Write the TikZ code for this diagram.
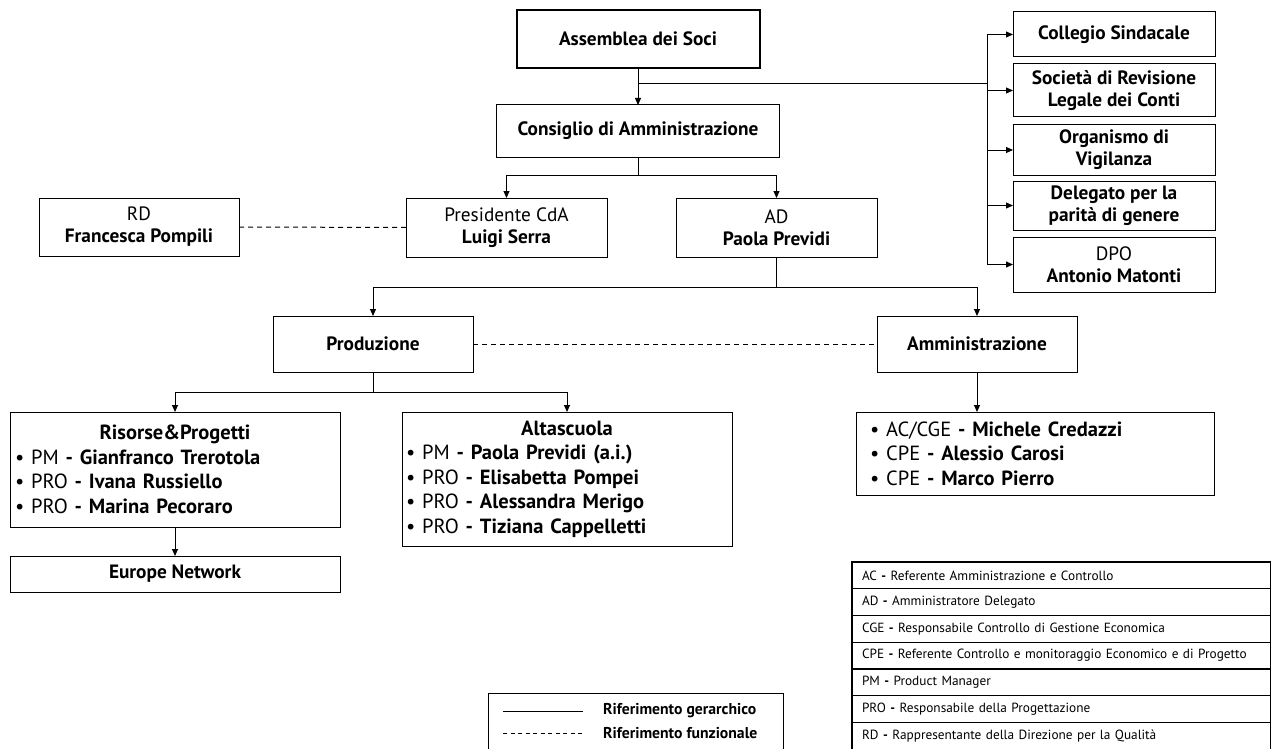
\documentclass[tikz,border=0pt]{standalone}
\usepackage{fontspec}
\setmainfont{PT Sans}
\usetikzlibrary{arrows.meta}
\newcommand{\boxfont}{\fontsize{19.3}{22}\selectfont}
\newcommand{\listfont}{\fontsize{20.5}{24.5}\selectfont}
\newcommand{\keyfont}{\fontsize{13.3}{16}\selectfont}
\newcommand{\legfont}{\fontsize{15.7}{18}\selectfont}
\tikzset{
    orgbox/.style = {
        align=center,
        rectangle,
        draw=black,
        line width=1pt,
        font=\boxfont,
        inner sep=0pt,
        outer sep=0pt
    },
    headbox/.style = {
        orgbox,
        line width=2pt
    },
    sidebox/.style = {
        orgbox,
        minimum width=202pt
    },
    listbox/.style = {
        orgbox,
        font=\listfont,
        align=left
    },
    keyrow/.style = {
        orgbox,
        line width=1.3pt,
        font=\keyfont,
        anchor=north west,
        align=left,
        text width=399pt,
        inner xsep=10pt,
        minimum height=26.75pt
    },
    hier/.style = {
        line width=1pt,
        -{Triangle[length=7pt,width=6pt]}
    },
    func/.style = {
        line width=1pt,
        dash pattern=on 5pt off 4pt
    }
}

\begin{document}
\begin{tikzpicture}[x=1pt,y=-1pt]
    \useasboundingbox (0,0) rectangle (1271,749);

    % vertice
    \node [headbox, minimum width=243pt, minimum height=58pt] (soci) at (638,39) {\textbf{Assemblea dei Soci}};
    \node [orgbox, minimum width=283pt, minimum height=52pt] (cda) at (638,131) {\textbf{Consiglio di Amministrazione}};
    \node [orgbox, minimum width=200pt, minimum height=58pt] (rd) at (139,227) {RD\\\textbf{Francesca Pompili}};
    \node [orgbox, minimum width=201pt, minimum height=59pt] (pres) at (506.5,227.5) {Presidente CdA\\\textbf{Luigi Serra}};
    \node [orgbox, minimum width=201pt, minimum height=59pt] (ad) at (776.5,227.5) {AD\\\textbf{Paola Previdi}};

    % organi di controllo
    \node [sidebox, minimum height=45pt] (coll) at (1114,34.5) {\textbf{Collegio Sindacale}};
    \node [sidebox, minimum height=53pt] (rev) at (1114,90.5) {\textbf{Società di Revisione}\\\textbf{Legale dei Conti}};
    \node [sidebox, minimum height=50pt] (odv) at (1114,150) {\textbf{Organismo di}\\\textbf{Vigilanza}};
    \node [sidebox, minimum height=49pt] (pari) at (1114,205.5) {\textbf{Delegato per la}\\\textbf{parità di genere}};
    \node [sidebox, minimum height=55pt] (dpo) at (1114,264.5) {DPO\\\textbf{Antonio Matonti}};

    % aree
    \node [orgbox, minimum width=200pt, minimum height=56pt] (prod) at (373,344) {\textbf{Produzione}};
    \node [orgbox, minimum width=200pt, minimum height=56pt] (amm) at (977,344) {\textbf{Amministrazione}};
    \node [listbox, text width=320pt, inner xsep=5pt, minimum height=115pt] (ris) at (175,469.5)
        {\hfill\textbf{Risorse\&Progetti}\hfill\null\\
         \textbullet{} PM \textbf{- Gianfranco Trerotola}\\
         \textbullet{} PRO \textbf{- Ivana Russiello}\\
         \textbullet{} PRO \textbf{- Marina Pecoraro}};
    \node [listbox, text width=322pt, inner xsep=4pt, minimum height=134pt] (alta) at (567,479)
        {\hfill\textbf{Altascuola}\hfill\null\\
         \textbullet{} PM \textbf{- Paola Previdi (a.i.)}\\
         \textbullet{} PRO \textbf{- Elisabetta Pompei}\\
         \textbullet{} PRO \textbf{- Alessandra Merigo}\\
         \textbullet{} PRO \textbf{- Tiziana Cappelletti}};
    \node [orgbox, minimum width=330pt, minimum height=36pt] (europe) at (175,574) {\textbf{Europe Network}};
    \node [listbox, text width=331pt, inner xsep=13.5pt, minimum height=83pt] (staff) at (1035.5,453.5)
        {\textbullet{} AC/CGE \textbf{- Michele Credazzi}\\
         \textbullet{} CPE \textbf{- Alessio Carosi}\\
         \textbullet{} CPE \textbf{- Marco Pierro}};

    % collegamenti gerarchici
    \coordinate (trunk) at (987,84);
    \draw [hier] (soci.south) -- (cda.north);
    \draw [line width=1pt] (soci.south |- trunk) -- (trunk);
    \draw [line width=1pt] (trunk |- coll.west) -- (trunk |- dpo.west);
    \foreach \n in {coll,rev,odv,pari,dpo}
        \draw [hier] (trunk |- \n.west) -- (\n.west);
    \draw [hier] (cda.south) -- ++(0,18) -| (pres.north);
    \draw [hier] (cda.south) -- ++(0,18) -| (ad.north);
    \draw [hier] (ad.south) -- ++(0,30) -| (prod.north);
    \draw [hier] (ad.south) -- ++(0,30) -| (amm.north);
    \draw [hier] (prod.south) -- ++(0,20) -| (ris.north);
    \draw [hier] (prod.south) -- ++(0,20) -| (alta.north);
    \draw [hier] (ris.south) -- (europe.north);
    \draw [hier] (amm.south) -- (amm.south |- staff.north);

    % collegamenti funzionali
    \draw [func] (rd.east) -- (pres.west);
    \draw [func] (prod.east) -- (amm.west);

    % legenda
    \node [orgbox, minimum width=295pt, minimum height=60pt, anchor=north west] (legenda) at (488,693) {};
    \coordinate (gerA) at (503,711);
    \coordinate (funA) at (503,733);
    \draw [line width=1pt] (gerA) -- ++(80,0);
    \draw [line width=0.8pt, dash pattern=on 4pt off 3.5pt] (funA) -- ++(80,0);
    \node [font=\legfont, anchor=west, inner sep=0pt] (gerT) at (603,711) {\textbf{Riferimento gerarchico}};
    \node [font=\legfont, anchor=west, inner sep=0pt] (funT) at (603,733) {\textbf{Riferimento funzionale}};

    % sigle
    \foreach \ab/\txt [count=\i from 0] in {
        AC/Referente Amministrazione e Controllo,
        AD/Amministratore Delegato,
        CGE/Responsabile Controllo di Gestione Economica,
        CPE/Referente Controllo e monitoraggio Economico e di Progetto,
        PM/Product Manager,
        PRO/Responsabile della Progettazione,
        RD/Rappresentante della Direzione per la Qualità}
        \node [keyrow] (key\i) at (852,562+\i*26.75) {\ab\ \textbf{-} \txt};
\end{tikzpicture}
\end{document}
